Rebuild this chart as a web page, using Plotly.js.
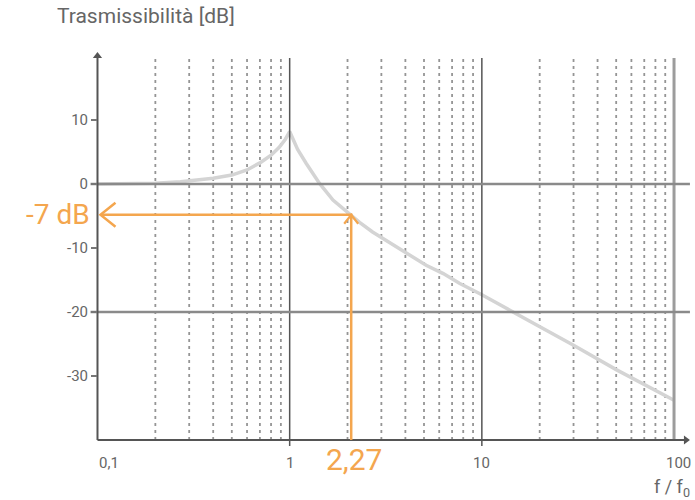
<!DOCTYPE html>
<html>
<head>
<meta charset="utf-8">
<script src="https://cdn.plot.ly/plotly-3.0.1.min.js"></script>
<style>html,body{margin:0;padding:0;background:#fff;}#chart{width:695px;height:500px;}</style>
</head>
<body>
<div id="chart"></div>
<script>
// ---- data ----
const freqRatio = [0.1, 0.15, 0.2, 0.27, 0.33, 0.4, 0.5, 0.6, 0.7, 0.8, 0.88, 0.95, 1.0, 1.04, 1.1, 1.22, 1.43, 1.68, 2.09, 2.31, 2.7, 3.44, 4.2, 5.13, 6.3, 7.64, 10, 15, 20, 30, 50, 70, 100];
const transDb   = [0.0, 0.05, 0.1, 0.35, 0.6, 0.9, 1.4, 2.2, 3.3, 4.5, 5.7, 7.0, 8.2, 6.9, 5.4, 3.2, 0.1, -2.5, -4.9, -6.0, -7.5, -9.5, -11.1, -12.7, -14.0, -15.5, -17.3, -20.2, -22.3, -25.2, -29.0, -31.3, -33.8];

const minorGrid = [0.2,0.3,0.4,0.5,0.6,0.7,0.8,0.9, 2,3,4,5,6,7,8,9, 20,30,40,50,60,70,80,90];
const majorDark = [1, 10];
const majorLight = [100];
const hLines = [0, -20];

const yTickVals = [10, 0, -10, -20, -30];
const yTickText = ['10', '0', '-10', '-20', '-30'];
const xTickVals = [0.1, 1, 10, 100];
const xTickText = ['0,1', '1', '10', '100'];

const markX = 2.09;      // where the orange guide is drawn
const markY = -4.8;
const markXLabel = '2,27';
const markYLabel = '-7 dB';

const yMin = -40, yTop = 19.7;
const xMin = 0.1;
const lineStart = 0.092, lineEnd = 121;

const orange = '#f4a64e';
const axisDark = '#555555';
const textGrey = '#666666';
const FONT = 'Roboto, "DejaVu Sans", sans-serif';

// layout geometry
const W = 695, H = 500;
const M = {l: 88, r: 3, t: 50, b: 52};
const xRangeLog = [-1.0494, 2.0935];
const yRange = [-41.25, 20.94];
const pxDec = (W - M.l - M.r) / (xRangeLog[1] - xRangeLog[0]);
const pxDb = (H - M.t - M.b) / (yRange[1] - yRange[0]);
const shiftX = (v, px) => Math.pow(10, Math.log10(v) + px / pxDec);
const shiftY = (v, px) => v + px / pxDb;

function vLines(xs, y0, y1) {
  const X = [], Y = [];
  xs.forEach(v => { X.push(v, v, null); Y.push(y0, y1, null); });
  return {X, Y};
}
function hLinesXY(ys, x0, x1) {
  const X = [], Y = [];
  ys.forEach(v => { X.push(x0, x1, null); Y.push(v, v, null); });
  return {X, Y};
}

const dots = vLines(minorGrid, yMin, yTop);
const dark = vLines(majorDark, shiftY(yMin, -6), yTop);
const light = vLines(majorLight, yMin, yTop);
const hz = hLinesXY(hLines, lineStart, lineEnd);

// orange chevrons
const tipL = shiftX(xMin, 3);
const chevL = {x: [shiftX(tipL, 15), tipL, shiftX(tipL, 15)], y: [shiftY(markY, 12), markY, shiftY(markY, -12)]};
const chevU = {x: [shiftX(markX, -7), markX, shiftX(markX, 7)], y: [shiftY(markY, -9), markY, shiftY(markY, -9)]};
const axisEndX = shiftX(lineEnd, -4);

const traces = [
  {x: dots.X, y: dots.Y, mode: 'lines', line: {color: '#959595', width: 1.8, dash: '3px,4px'}, hoverinfo: 'skip'},
  {x: freqRatio, y: transDb, mode: 'lines', line: {color: '#d4d4d4', width: 3.5}, hoverinfo: 'skip'},
  {x: light.X, y: light.Y, mode: 'lines', line: {color: '#9c9c9c', width: 3}, hoverinfo: 'skip'},
  {x: dark.X, y: dark.Y, mode: 'lines', line: {color: axisDark, width: 1.5}, hoverinfo: 'skip'},
  {x: hz.X, y: hz.Y, mode: 'lines', line: {color: '#8a8a8a', width: 2.5}, hoverinfo: 'skip'},
  // axes
  {x: [xMin, xMin], y: [yMin, yTop], mode: 'lines', line: {color: axisDark, width: 2}, hoverinfo: 'skip'},
  {x: [xMin, axisEndX], y: [yMin, yMin], mode: 'lines', line: {color: axisDark, width: 2}, hoverinfo: 'skip'},
  {x: [xMin], y: [shiftY(yTop, 2)], mode: 'markers', marker: {symbol: 'triangle-up', size: 8, color: axisDark}, hoverinfo: 'skip'},
  {x: [axisEndX], y: [yMin], mode: 'markers', marker: {symbol: 'triangle-right', size: 8, color: axisDark}, hoverinfo: 'skip'},
  // orange guide
  {x: [shiftX(tipL, 1), markX, markX], y: [markY, markY, yMin], mode: 'lines', line: {color: orange, width: 2.5}, hoverinfo: 'skip'},
  {x: chevL.x, y: chevL.y, mode: 'lines', line: {color: orange, width: 2.5}, hoverinfo: 'skip'},
  {x: chevU.x, y: chevU.y, mode: 'lines', line: {color: orange, width: 2.2}, hoverinfo: 'skip'}
];

const annotations = [];
xTickVals.forEach((v, i) => {
  annotations.push({
    x: Math.log10(v), y: yMin, xref: 'x', yref: 'y',
    text: xTickText[i], showarrow: false,
    xanchor: i === 0 ? 'left' : 'center', yanchor: 'top',
    xshift: i === xTickVals.length - 1 ? 4 : 0, yshift: -12,
    font: {family: FONT, size: 15, color: textGrey}
  });
});
annotations.push(
  {x: Math.log10(markX), y: yMin, xref: 'x', yref: 'y', text: markXLabel, showarrow: false,
   xanchor: 'center', yanchor: 'top', xshift: 3, yshift: 0, font: {family: FONT, size: 30, color: orange}},
  {x: Math.log10(xMin), y: markY, xref: 'x', yref: 'y', text: markYLabel, showarrow: false,
   xanchor: 'right', yanchor: 'middle', xshift: -5, font: {family: FONT, size: 28, color: orange}},
  // axis label f / f0
  {x: 1, y: -0.1, xref: 'paper', yref: 'paper', text: 'f / f<sub>0</sub>', showarrow: false,
   xanchor: 'right', yanchor: 'middle', font: {family: FONT, size: 18, color: textGrey}}
);

const layout = {
  width: W, height: H,
  margin: M,
  paper_bgcolor: '#ffffff', plot_bgcolor: '#ffffff',
  showlegend: false,
  title: {text: 'Trasmissibilità [dB]', x: 0.082, xref: 'container', xanchor: 'left',
          y: 0.968, yref: 'container', yanchor: 'middle',
          font: {family: FONT, size: 21, color: textGrey}},
  xaxis: {type: 'log', range: xRangeLog, showgrid: false, zeroline: false,
          showline: false, showticklabels: false, ticks: ''},
  yaxis: {range: yRange, anchor: 'free', position: 9 / (W - M.l - M.r), showgrid: false, zeroline: false,
          showline: false, tickmode: 'array', tickvals: yTickVals, ticktext: yTickText,
          ticks: 'outside', ticklen: 6, tickwidth: 1.5, tickcolor: '#777777',
          tickfont: {family: FONT, size: 15, color: textGrey}},
  annotations: annotations
};

Plotly.newPlot('chart', traces, layout, {staticPlot: true, displayModeBar: false});
</script>
</body>
</html>
